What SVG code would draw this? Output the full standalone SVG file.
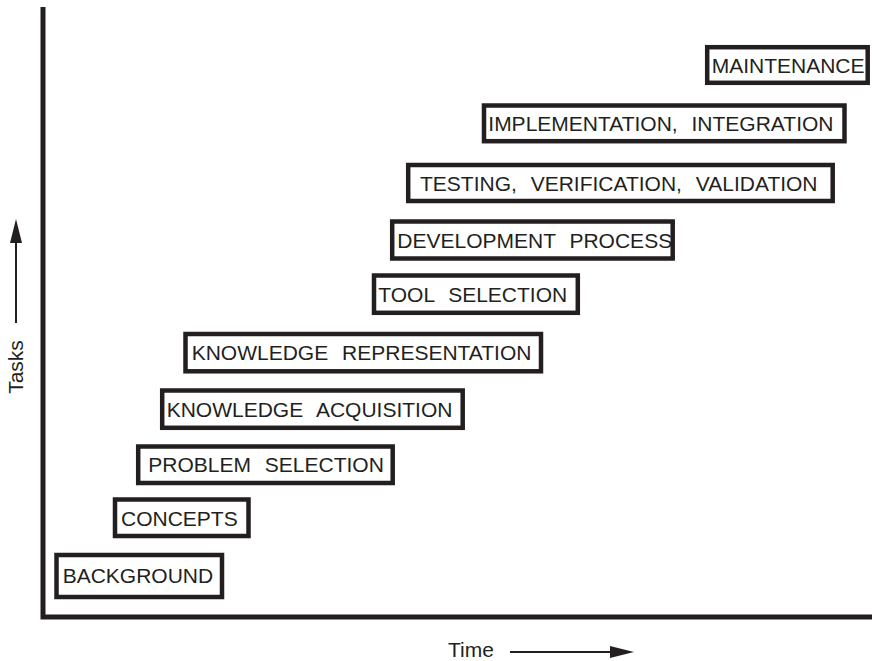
<svg xmlns="http://www.w3.org/2000/svg" width="872" height="661" viewBox="0 0 872 661">
<style>
.box{fill:#fff;stroke:#231f20;stroke-width:4.5}
.lbl{font-family:"Liberation Sans",Arial,sans-serif;font-size:21px;fill:#231f20;word-spacing:8px}
.axis{stroke:#231f20;stroke-width:5;fill:none}
.arr{stroke:#231f20;stroke-width:2;fill:none}
</style>
<defs>
<marker id="ah" viewBox="0 0 24 12" refX="0" refY="6" markerWidth="24" markerHeight="12" markerUnits="userSpaceOnUse" orient="auto">
<path d="M0,0 L24,6 L0,12 Z" fill="#231f20"/>
</marker>
</defs>
<rect width="872" height="661" fill="#fff"/>
<g id="axes">
<polyline class="axis" points="43,7 43,617 872,617"/>
<line class="arr" x1="16" y1="323" x2="16" y2="243" marker-end="url(#ah)"/>
<text class="lbl" transform="translate(23,367) rotate(-90)" text-anchor="middle">Tasks</text>
<line class="arr" x1="510" y1="652" x2="610" y2="652" marker-end="url(#ah)"/>
<text class="lbl" x="448" y="657">Time</text>
</g>
<g id="connectors"></g>
<g id="background"><rect class="box" x="56.5" y="555" width="165.5" height="42"/><text class="lbl" x="62.7" y="583.3">BACKGROUND</text></g>
<g id="concepts"><rect class="box" x="115" y="499.5" width="133.5" height="36.5"/><text class="lbl" x="121" y="525.7">CONCEPTS</text></g>
<g id="problem-selection"><rect class="box" x="138.2" y="446.5" width="254.5" height="36.5"/><text class="lbl" x="148.3" y="472">PROBLEM SELECTION</text></g>
<g id="knowledge-acquisition"><rect class="box" x="162.2" y="390.5" width="300.5" height="37.3"/><text class="lbl" x="166.7" y="416.7">KNOWLEDGE ACQUISITION</text></g>
<g id="knowledge-representation"><rect class="box" x="185.5" y="334" width="355.5" height="37.3"/><text class="lbl" x="191.7" y="360">KNOWLEDGE REPRESENTATION</text></g>
<g id="tool-selection"><rect class="box" x="374" y="275.5" width="203.8" height="37.3"/><text class="lbl" x="378.3" y="301.7">TOOL SELECTION</text></g>
<g id="development-process"><rect class="box" x="392.2" y="221.5" width="280.5" height="37"/><text class="lbl" x="397.3" y="247.5">DEVELOPMENT PROCESS</text></g>
<g id="testing"><rect class="box" x="408.2" y="165" width="424.5" height="36"/><text class="lbl" x="420" y="190.5">TESTING, VERIFICATION, VALIDATION</text></g>
<g id="implementation"><rect class="box" x="484" y="105.5" width="360.5" height="35.7"/><text class="lbl" x="488.3" y="130.8">IMPLEMENTATION, INTEGRATION</text></g>
<g id="maintenance"><rect class="box" x="707.2" y="47.2" width="160.5" height="35.6"/><text class="lbl" x="711.7" y="72.5">MAINTENANCE</text></g>
</svg>
